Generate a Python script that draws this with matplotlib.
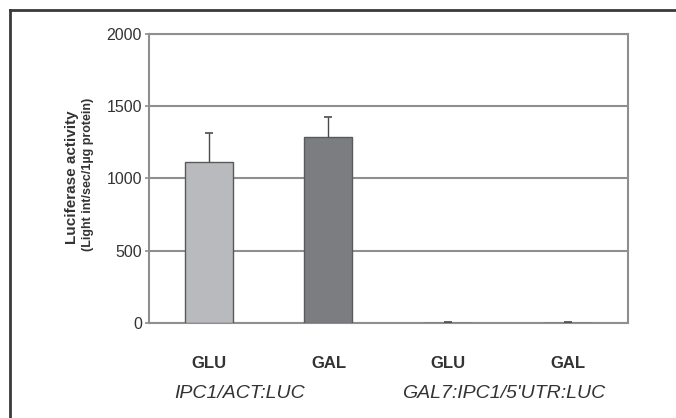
import matplotlib
matplotlib.use("Agg")
import matplotlib.pyplot as plt
from matplotlib.lines import Line2D
from matplotlib import transforms

plt.rcParams['font.family'] = ['Liberation Sans', 'DejaVu Sans']

# data
conditions = ["GLU", "GAL", "GLU", "GAL"]
activity = [1115, 1285, 4, 4]
activity_err = [200, 140, 2, 2]
bar_colors = ["#b9babe", "#7c7d81", "#b9babe", "#7c7d81"]
constructs = ["IPC1/ACT:LUC", "GAL7:IPC1/5'UTR:LUC"]
construct_pos = [0.26, 2.46]
yticks = [0, 500, 1000, 1500, 2000]

fig = plt.figure(figsize=(6.76, 4.18), dpi=100)
ax = fig.add_axes([0.22, 0.227, 0.709, 0.692])

x = list(range(len(conditions)))
grid_col = "#8f8f8f"
text_col = "#333333"

ax.bar(x, activity, width=0.4, color=bar_colors, edgecolor="#5a5a5a",
       linewidth=1.0, zorder=3)
eb = ax.errorbar(x, activity, yerr=[[0] * len(activity_err), activity_err],
                 fmt="none", ecolor="#4a4a4a", elinewidth=1.0, capsize=3,
                 capthick=1.2, zorder=4)
# only the upper cap is drawn in the original
eb[1][0].set_visible(False)

ax.set_xlim(-0.5, 3.5)
ax.set_ylim(0, 2000)
ax.set_yticks(yticks)
ax.yaxis.grid(True, color=grid_col, linewidth=1.5, zorder=0)
ax.set_axisbelow(True)

for side in ["left", "right", "bottom", "top"]:
    ax.spines[side].set_color(grid_col)
    ax.spines[side].set_linewidth(1.5)

ax.tick_params(axis="y", length=3, width=1.2, color=grid_col, pad=2,
               labelsize=11.5, labelcolor=text_col)
ax.tick_params(axis="x", length=0, pad=24)
ax.set_xticks(x)
ax.set_xticklabels(conditions, fontsize=12, fontweight="bold", color=text_col)

trans = transforms.blended_transform_factory(ax.transData, fig.transFigure)
for label, pos in zip(constructs, construct_pos):
    ax.text(pos, 1 - 393 / 418, label, transform=trans, ha="center",
            va="center", fontsize=14, style="italic", color=text_col)

fig.text(72 / 676, 1 - 177 / 418, "Luciferase activity", rotation=90,
         ha="center", va="center", fontsize=11, fontweight="bold", color=text_col)
fig.text(88 / 676, 1 - 174 / 418, "(Light int/sec/1µg protein)", rotation=90,
         ha="center", va="center", fontsize=9, fontweight="bold", color=text_col)

# outer frame (left and top only)
fx, fy = 10 / 676, 1 - 10 / 418
fig.add_artist(Line2D([fx, fx], [0, fy], transform=fig.transFigure,
                      color="#3a3a3a", linewidth=2))
fig.add_artist(Line2D([fx, 1], [fy, fy], transform=fig.transFigure,
                      color="#3a3a3a", linewidth=2))

fig.savefig("out.png", dpi=100)
